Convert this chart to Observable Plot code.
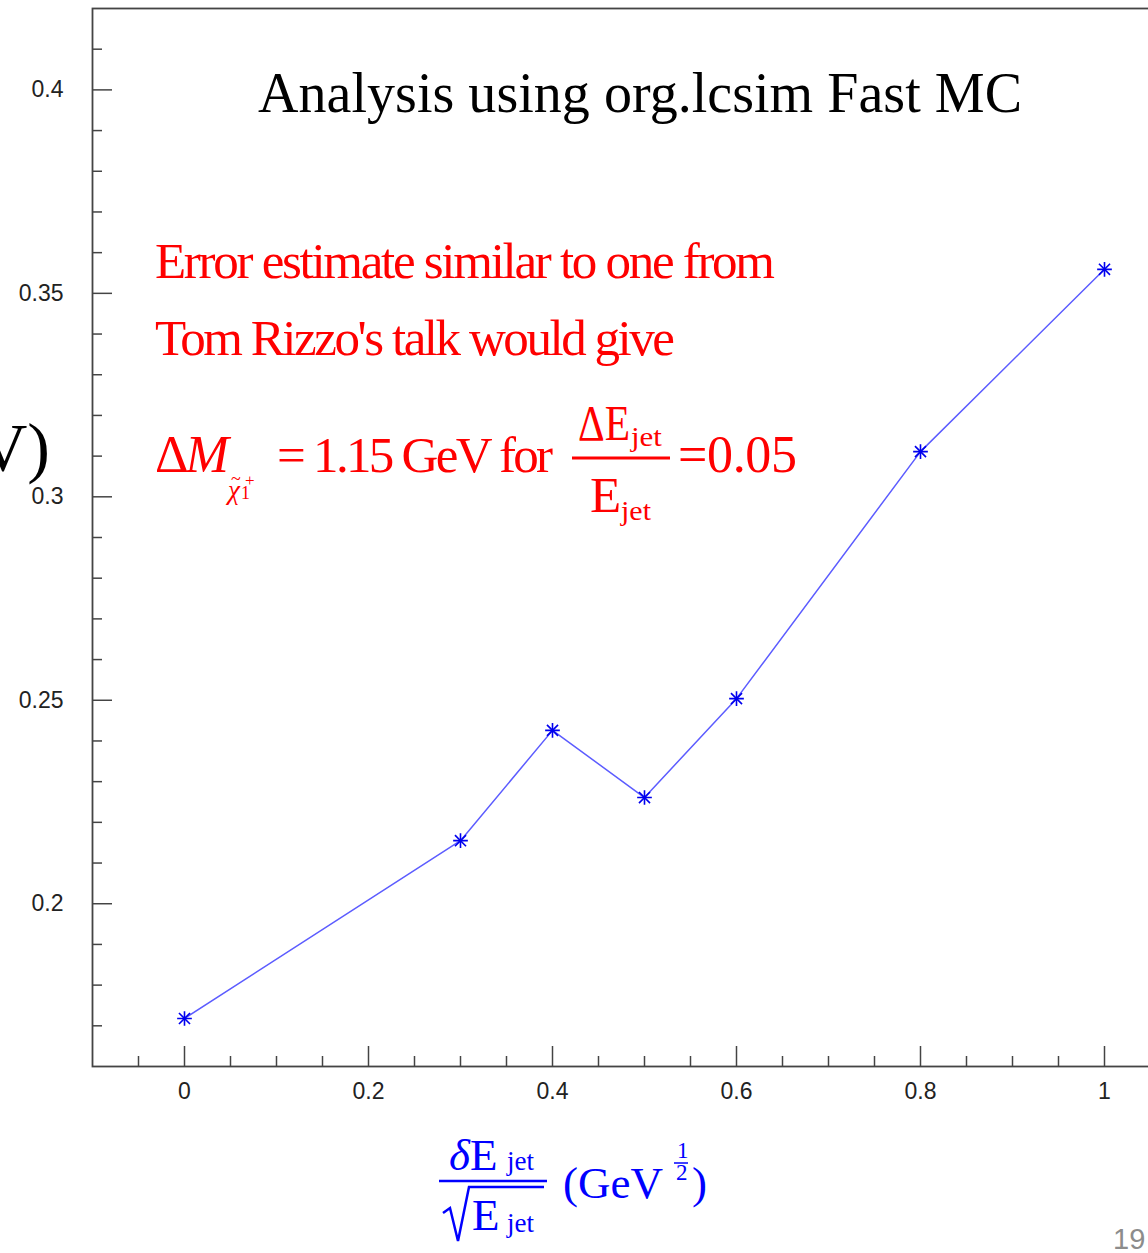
<!DOCTYPE html>
<html>
<head>
<meta charset="utf-8">
<script src="https://cdn.jsdelivr.net/npm/d3@7"></script>
<script src="https://cdn.jsdelivr.net/npm/@observablehq/plot@0.6"></script>
<style>
html, body { margin: 0; padding: 0; overflow: hidden; background: #fff; }
#wrap { position: relative; width: 1148px; height: 1253px; overflow: hidden; }
#wrap svg { max-width: none !important; width: 1200px !important; height: 1253px !important; display: block; }
</style>
</head>
<body>
<div id="wrap"></div>
<script>
// ---- data ----
const xValues = [0, 0.3, 0.4, 0.5, 0.6, 0.8, 1];
const yValues = [0.1718, 0.2155, 0.2426, 0.2261, 0.2504, 0.3111, 0.3559];

// ---- ticks ----
const xMajorTicks = [0, 0.2, 0.4, 0.6, 0.8, 1];
const xMinorTicks = [-0.05, 0.05, 0.1, 0.15, 0.25, 0.3, 0.35, 0.45, 0.5, 0.55, 0.65, 0.7, 0.75, 0.85, 0.9, 0.95, 1.05];
const yMajorTicks = [0.2, 0.25, 0.3, 0.35, 0.4];
const yMinorTicks = [0.17, 0.18, 0.19, 0.21, 0.22, 0.23, 0.24, 0.26, 0.27, 0.28, 0.29, 0.31, 0.32, 0.33, 0.34, 0.36, 0.37, 0.38, 0.39, 0.41];

const points = xValues.map((x, i) => ({x, y: yValues[i]}));

const axisColor = "#444";
const sans = "'Liberation Sans', Arial, sans-serif";
const serif = "'Liberation Serif', 'Times New Roman', serif";

const chart = Plot.plot({
  width: 1200,
  height: 1253,
  marginLeft: 92,
  marginRight: 4,
  marginTop: 8,
  marginBottom: 187,
  style: {fontFamily: sans, fontSize: "23px", background: "#fff", overflow: "hidden", maxWidth: "none"},
  x: {domain: [-0.1, 1.1], axis: null},
  y: {domain: [0.16, 0.42], axis: null},
  marks: [
    Plot.frame({stroke: axisColor, strokeWidth: 1.8}),
    // minor ticks (inward)
    Plot.axisX(xMinorTicks, {anchor: "bottom", tickSize: -10, fill: "none", stroke: axisColor, strokeWidth: 1.5, label: null}),
    Plot.axisY(yMinorTicks, {anchor: "left", tickSize: -10, fill: "none", stroke: axisColor, strokeWidth: 1.5, label: null}),
    // major ticks (inward)
    Plot.axisX(xMajorTicks, {anchor: "bottom", tickSize: -20, fill: "none", stroke: axisColor, strokeWidth: 1.5, label: null}),
    Plot.axisY(yMajorTicks, {anchor: "left", tickSize: -20, fill: "none", stroke: axisColor, strokeWidth: 1.5, label: null}),
    // tick labels
    Plot.axisX(xMajorTicks, {anchor: "bottom", tickSize: 0, tickPadding: 16, fill: "#222", fontSize: 23, tickFormat: d => String(d), label: null}),
    Plot.axisY(yMajorTicks, {anchor: "left", tickSize: 0, tickPadding: 29, fill: "#222", fontSize: 23, tickFormat: d => String(d), label: null}),
    // data
    Plot.line(points, {x: "x", y: "y", stroke: "#5c5cff", strokeWidth: 1.5}),
    Plot.dot(points, {x: "x", y: "y", symbol: "plus", r: 4.8, stroke: "#0000ee", strokeWidth: 1.6}),
    Plot.dot(points, {x: "x", y: "y", symbol: "times", r: 5.1, stroke: "#0000ee", strokeWidth: 1.6})
  ]
});

document.getElementById("wrap").appendChild(chart);

// ---- annotations ----
const g = d3.select(chart).append("g").attr("class", "annotations");

function txt(str, x, y, o = {}) {
  const t = g.append("text")
    .attr("x", x).attr("y", y)
    .attr("font-family", o.family || serif)
    .attr("font-size", o.size || 52)
    .attr("fill", o.fill || "#000")
    .attr("text-anchor", o.anchor || "start")
    .text(str);
  if (o.italic) t.attr("font-style", "italic");
  if (o.len) t.attr("textLength", o.len).attr("lengthAdjust", o.adjust || "spacing");
  return t;
}
function bar(x1, x2, y, color, w) {
  g.append("line").attr("x1", x1).attr("x2", x2).attr("y1", y).attr("y2", y)
    .attr("stroke", color).attr("stroke-width", w);
}

// title
txt("Analysis using org.lcsim Fast MC", 258, 112, {size: 56, len: 764});

// red annotation
const red = "#ff0000";
txt("Error estimate similar to one from", 155, 278, {fill: red, size: 51, len: 620});
txt("Tom Rizzo's talk would give", 155, 355, {fill: red, size: 51, len: 520});
const dm = txt("", 155, 472, {fill: red, size: 52});
dm.append("tspan").text("Δ");
dm.append("tspan").attr("font-style", "italic").attr("dx", -3).text("M");
txt("χ", 228, 499, {fill: red, size: 27, italic: true});
txt("~", 231, 485, {fill: red, size: 18});
txt("1", 241, 499, {fill: red, size: 18});
txt("+", 245, 486, {fill: red, size: 17});
txt("= 1.15 GeV for", 277, 472, {fill: red, size: 51, len: 276});
txt("ΔE", 578, 440, {fill: red, size: 51, len: 52, adjust: "spacingAndGlyphs"});
txt("jet", 631, 446, {fill: red, size: 27, len: 31, adjust: "spacingAndGlyphs"});
bar(572, 670, 458, red, 3);
txt("E", 590, 512, {fill: red, size: 51});
txt("jet", 621, 520, {fill: red, size: 27, len: 30, adjust: "spacingAndGlyphs"});
txt("=0.05", 678, 472, {fill: red, size: 52, len: 119});

// y-axis label (cut off at left edge)
txt("(GeV)", 50, 470, {size: 68, anchor: "end"});

// x-axis label (blue)
const blue = "#0000ff";
const num = txt("", 449, 1170, {fill: blue, size: 45});
num.append("tspan").attr("font-style", "italic").text("δ");
num.append("tspan").text("E");
txt("jet", 507, 1170, {fill: blue, size: 27});
bar(439, 547, 1181, blue, 2.5);
g.append("path")
  .attr("d", "M443,1213 L450,1208 L458,1241 L469,1187 L544,1187")
  .attr("fill", "none").attr("stroke", blue).attr("stroke-width", 2.5).attr("stroke-linejoin", "miter");
txt("E", 472, 1230, {fill: blue, size: 45});
txt("jet", 507, 1232, {fill: blue, size: 27});
txt("(GeV", 563, 1198, {fill: blue, size: 45});
txt("1", 677, 1158, {fill: blue, size: 23});
bar(674, 688, 1163, blue, 1.5);
txt("2", 676, 1180, {fill: blue, size: 23});
txt(")", 692, 1198, {fill: blue, size: 45});

// page number
txt("19", 1113, 1249, {family: sans, size: 29, fill: "#8c8c8c"});
</script>
</body>
</html>
